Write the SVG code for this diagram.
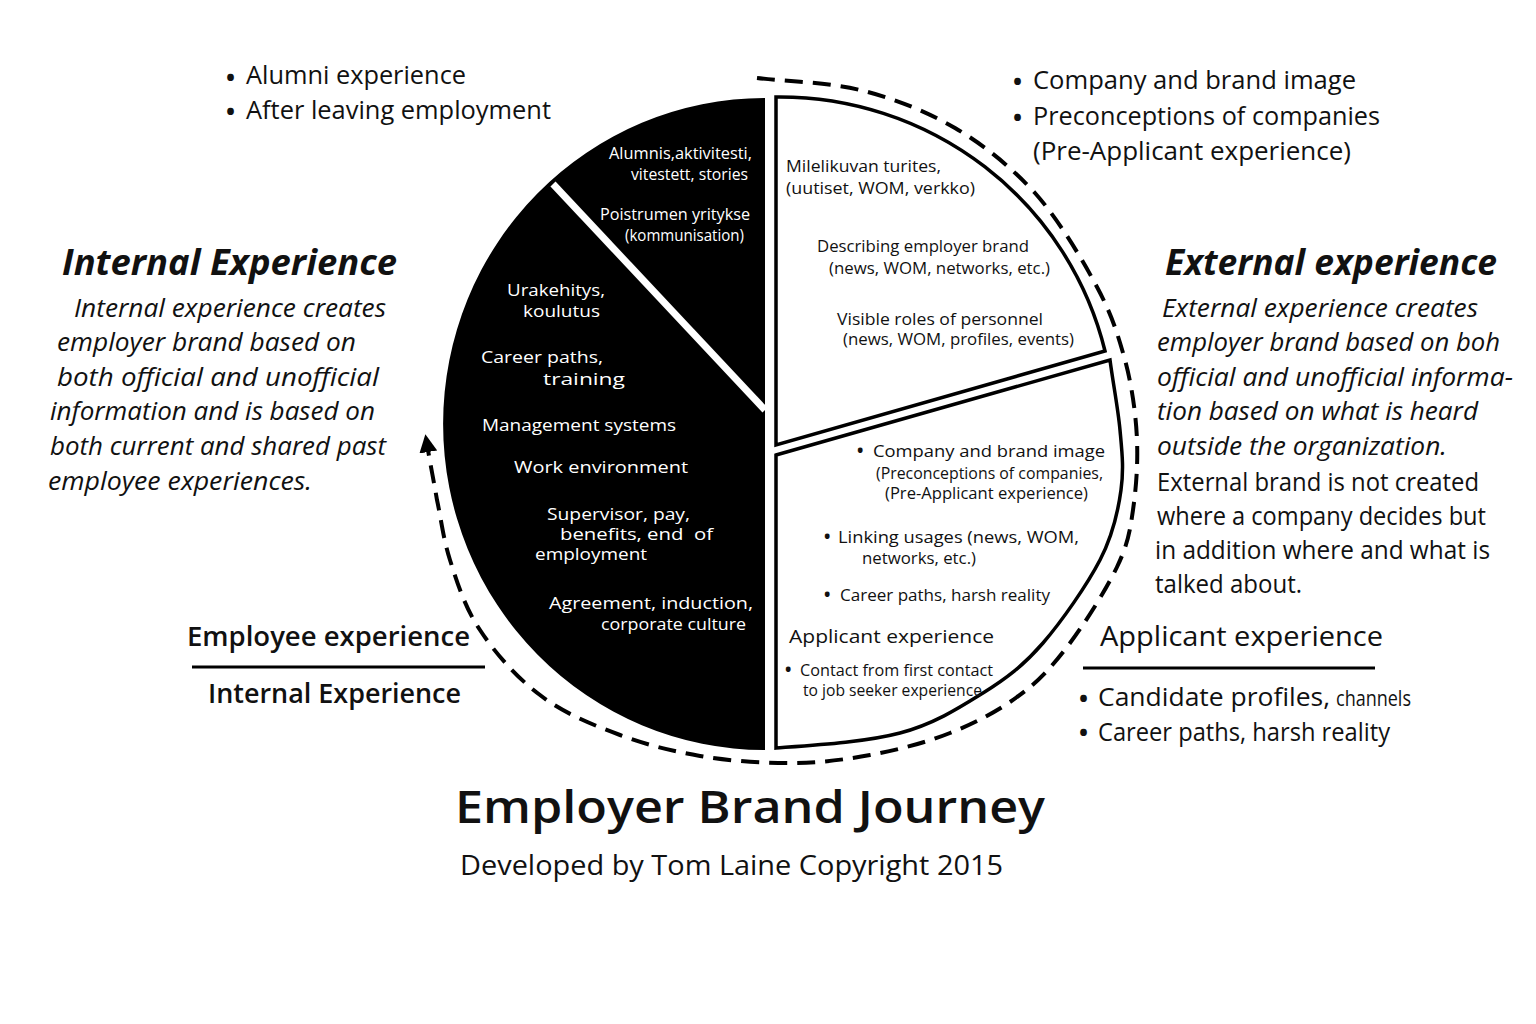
<svg xmlns="http://www.w3.org/2000/svg" width="1536" height="1024" viewBox="0 0 1536 1024">
<style>
text{font-family:"Open Sans","Noto Sans","DejaVu Sans",sans-serif;fill:#111;}
.s25{font-size:25px;}
.it{font-style:italic;}
.h{font-size:36px;font-weight:700;font-style:italic;}
.sub{font-size:27px;font-weight:600;}
.in{font-size:16px;}
.w{fill:#fff;}
.bl{font-size:24px;font-weight:700;}
.bs{font-size:17px;font-weight:700;}
.ol{fill:#fff;stroke:#000;stroke-width:3.5;stroke-linejoin:miter;}
.dash{fill:none;stroke:#000;stroke-width:4;stroke-dasharray:18 10;}
.rule{stroke:#000;stroke-width:3;}
</style>
<defs>
<marker id="arrow" markerWidth="18" markerHeight="20" refX="2" refY="9" orient="auto" markerUnits="userSpaceOnUse" viewBox="0 0 18 18">
<path d="M0,0 L18,9 L0,18 Z" fill="#000"/>
</marker>
</defs>
<rect width="1536" height="1024" fill="#fff"/>

<g id="connectors">
<path class="dash" marker-end="url(#arrow)" d="M 757 78 C 791 82 827 82 860 90 C 893 98 926 111 955 128 C 984 145 1011 167 1035 193 C 1059 220 1082 259 1097 287 C 1112 315 1118 335 1125 360 C 1132 386 1136 415 1137 440 C 1138 465 1136 489 1133 510 C 1130 531 1128 544 1117 567 C 1106 590 1084 625 1067 647 C 1050 669 1037 683 1017 697 C 998 711 975 723 950 733 C 925 743 897 750 870 755 C 843 760 818 763 790 763 C 762 763 728 761 700 756 C 672 751 647 745 620 735 C 593 725 563 713 540 695 C 517 678 495 653 480 630 C 465 608 457 582 450 560 C 443 538 441 518 437 500 C 434 482 431 468 428 450"/>
</g>

<g id="internal-half">
<path d="M 765 98 A 322 326 0 0 0 765 750 Z" fill="#000"/>
<line x1="553" y1="184" x2="765" y2="410" stroke="#fff" stroke-width="7"/>
<text class="in w" x="609" y="159" textLength="143" lengthAdjust="spacingAndGlyphs">Alumnis,aktivitesti,</text>
<text class="in w" x="631" y="180" textLength="117" lengthAdjust="spacingAndGlyphs">vitestett, stories</text>
<text class="in w" x="600" y="220" textLength="150" lengthAdjust="spacingAndGlyphs">Poistrumen yritykse</text>
<text class="in w" x="625" y="241" textLength="119" lengthAdjust="spacingAndGlyphs">(kommunisation)</text>
<text class="in w" x="507" y="296" textLength="98" lengthAdjust="spacingAndGlyphs">Urakehitys,</text>
<text class="in w" x="523" y="317" textLength="77" lengthAdjust="spacingAndGlyphs">koulutus</text>
<text class="in w" x="481" y="363" textLength="122" lengthAdjust="spacingAndGlyphs">Career paths,</text>
<text class="in w" x="543" y="385" textLength="82" lengthAdjust="spacingAndGlyphs">training</text>
<text class="in w" x="482" y="431" textLength="194" lengthAdjust="spacingAndGlyphs">Management systems</text>
<text class="in w" x="514" y="473" textLength="174" lengthAdjust="spacingAndGlyphs">Work environment</text>
<text class="in w" x="547" y="520" textLength="143" lengthAdjust="spacingAndGlyphs">Supervisor, pay,</text>
<text class="in w" x="560" y="540" textLength="153" lengthAdjust="spacingAndGlyphs" xml:space="preserve">benefits, end  of</text>
<text class="in w" x="535" y="560" textLength="112" lengthAdjust="spacingAndGlyphs">employment</text>
<text class="in w" x="549" y="609" textLength="204" lengthAdjust="spacingAndGlyphs">Agreement, induction,</text>
<text class="in w" x="601" y="630" textLength="145" lengthAdjust="spacingAndGlyphs">corporate culture</text>
</g>

<g id="upper-right-wedge">
<path class="ol" d="M 776 97 A 335 333 0 0 1 1105 351 L 776 445 Z"/>
<text class="in" x="786" y="172" textLength="155" lengthAdjust="spacingAndGlyphs">Milelikuvan turites,</text>
<text class="in" x="786" y="194" textLength="189" lengthAdjust="spacingAndGlyphs">(uutiset, WOM, verkko)</text>
<text class="in" x="817" y="252" textLength="212" lengthAdjust="spacingAndGlyphs">Describing employer brand</text>
<text class="in" x="829" y="274" textLength="221" lengthAdjust="spacingAndGlyphs">(news, WOM, networks, etc.)</text>
<text class="in" x="837" y="325" textLength="206" lengthAdjust="spacingAndGlyphs">Visible roles of personnel</text>
<text class="in" x="843" y="345" textLength="231" lengthAdjust="spacingAndGlyphs">(news, WOM, profiles, events)</text>
</g>

<g id="lower-right-wedge">
<path class="ol" d="M 776 455 L 1110 360 C 1113 383 1118 408 1120 430 C 1122 452 1124 468 1121 490 C 1118 512 1113 535 1100 560 C 1087 585 1062 621 1043 643 C 1024 665 1007 678 983 693 C 959 708 934 724 900 733 C 866 742 817 745 776 748 Z"/>
<text class="bs" x="857" y="457">•</text>
<text class="in" x="873" y="457" textLength="232" lengthAdjust="spacingAndGlyphs">Company and brand image</text>
<text class="in" x="876" y="479" textLength="227" lengthAdjust="spacingAndGlyphs">(Preconceptions of companies,</text>
<text class="in" x="885" y="499" textLength="203" lengthAdjust="spacingAndGlyphs">(Pre-Applicant experience)</text>
<text class="bs" x="824" y="543">•</text>
<text class="in" x="838" y="543" textLength="241" lengthAdjust="spacingAndGlyphs">Linking usages (news, WOM,</text>
<text class="in" x="862" y="564" textLength="114" lengthAdjust="spacingAndGlyphs">networks, etc.)</text>
<text class="bs" x="824" y="601">•</text>
<text class="in" x="840" y="601" textLength="210" lengthAdjust="spacingAndGlyphs">Career paths, harsh reality</text>
<text x="789" y="643" font-size="19" textLength="205" lengthAdjust="spacingAndGlyphs">Applicant experience</text>
<text class="bs" x="785" y="676">•</text>
<text class="in" x="800" y="676" textLength="193" lengthAdjust="spacingAndGlyphs">Contact from first contact</text>
<text class="in" x="803" y="696" textLength="179" lengthAdjust="spacingAndGlyphs">to job seeker experience</text>
</g>

<g id="alumni-note">
<text class="bl" x="226" y="86">•</text>
<text class="s25" x="246" y="84" textLength="220" lengthAdjust="spacingAndGlyphs">Alumni experience</text>
<text class="bl" x="226" y="120">•</text>
<text class="s25" x="246" y="119" textLength="305" lengthAdjust="spacingAndGlyphs">After leaving employment</text>
</g>

<g id="pre-applicant-note">
<text class="bl" x="1013" y="90">•</text>
<text class="s25" x="1033" y="89" textLength="323" lengthAdjust="spacingAndGlyphs">Company and brand image</text>
<text class="bl" x="1013" y="126">•</text>
<text class="s25" x="1033" y="125" textLength="347" lengthAdjust="spacingAndGlyphs">Preconceptions of companies</text>
<text class="s25" x="1033" y="160" textLength="318" lengthAdjust="spacingAndGlyphs">(Pre-Applicant experience)</text>
</g>

<g id="internal-experience">
<text class="h" x="62" y="275" textLength="335" lengthAdjust="spacingAndGlyphs">Internal Experience</text>
<text class="s25 it" x="74" y="317" textLength="312" lengthAdjust="spacingAndGlyphs">Internal experience creates</text>
<text class="s25 it" x="57" y="351" textLength="299" lengthAdjust="spacingAndGlyphs">employer brand based on</text>
<text class="s25 it" x="57" y="386" textLength="322" lengthAdjust="spacingAndGlyphs">both official and unofficial</text>
<text class="s25 it" x="50" y="420" textLength="325" lengthAdjust="spacingAndGlyphs">information and is based on</text>
<text class="s25 it" x="50" y="455" textLength="336" lengthAdjust="spacingAndGlyphs">both current and shared past</text>
<text class="s25 it" x="48" y="490" textLength="264" lengthAdjust="spacingAndGlyphs">employee experiences.</text>
</g>

<g id="external-experience">
<text class="h" x="1165" y="275" textLength="332" lengthAdjust="spacingAndGlyphs">External experience</text>
<text class="s25 it" x="1162" y="317" textLength="316" lengthAdjust="spacingAndGlyphs">External experience creates</text>
<text class="s25 it" x="1157" y="351" textLength="343" lengthAdjust="spacingAndGlyphs">employer brand based on boh</text>
<text class="s25 it" x="1157" y="386" textLength="356" lengthAdjust="spacingAndGlyphs">official and unofficial informa-</text>
<text class="s25 it" x="1157" y="420" textLength="321" lengthAdjust="spacingAndGlyphs">tion based on what is heard</text>
<text class="s25 it" x="1157" y="455" textLength="290" lengthAdjust="spacingAndGlyphs">outside the organization.</text>
<text class="s25" x="1157" y="491" textLength="322" lengthAdjust="spacingAndGlyphs">External brand is not created</text>
<text class="s25" x="1157" y="525" textLength="329" lengthAdjust="spacingAndGlyphs">where a company decides but</text>
<text class="s25" x="1155" y="559" textLength="335" lengthAdjust="spacingAndGlyphs">in addition where and what is</text>
<text class="s25" x="1155" y="593" textLength="147" lengthAdjust="spacingAndGlyphs">talked about.</text>
</g>

<g id="employee-label">
<text class="sub" x="187" y="646" textLength="283" lengthAdjust="spacingAndGlyphs">Employee experience</text>
<line class="rule" x1="192" y1="667" x2="485" y2="667"/>
<text class="sub" x="208" y="703" textLength="253" lengthAdjust="spacingAndGlyphs">Internal Experience</text>
</g>

<g id="applicant-label">
<text x="1100" y="646" font-size="27" font-weight="500" textLength="283" lengthAdjust="spacingAndGlyphs">Applicant experience</text>
<line class="rule" x1="1083" y1="668" x2="1375" y2="668"/>
<text class="bl" x="1079" y="707">•</text>
<text class="s25" x="1098" y="706" textLength="232" lengthAdjust="spacingAndGlyphs">Candidate profiles,</text>
<text x="1336" y="706" font-size="21" textLength="75" lengthAdjust="spacingAndGlyphs">channels</text>
<text class="bl" x="1079" y="741">•</text>
<text class="s25" x="1098" y="741" textLength="292" lengthAdjust="spacingAndGlyphs">Career paths, harsh reality</text>
</g>

<g id="title">
<text x="455" y="823" font-size="45" font-weight="600" textLength="590" lengthAdjust="spacingAndGlyphs">Employer Brand Journey</text>
<text x="460" y="875" font-size="27" textLength="543" lengthAdjust="spacingAndGlyphs">Developed by Tom Laine Copyright 2015</text>
</g>
</svg>
